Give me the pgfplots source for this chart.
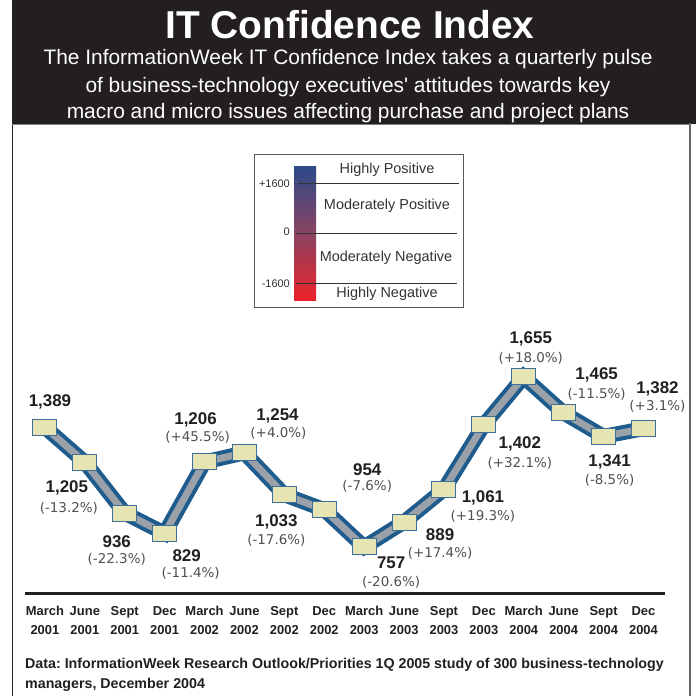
\documentclass[border=0pt]{standalone}
\usepackage{pgfplots}
\pgfplotsset{compat=1.18}
\usepackage{pgfplotstable}
\usepackage{fontspec}
\setmainfont{Liberation Sans}
\newfontfamily\dejavu{DejaVu Sans}
\frenchspacing
\definecolor{hdr}{HTML}{231F20}
\definecolor{lineblue}{HTML}{1F5C8E}
\definecolor{linegray}{HTML}{9BA1A9}
\definecolor{mkfill}{HTML}{E6E4B2}
\definecolor{mkdraw}{HTML}{3D6F9A}
\definecolor{pctgray}{HTML}{505050}
\definecolor{legblue}{HTML}{2C4A8A}
\definecolor{legmid}{HTML}{8A4462}
\definecolor{legred}{HTML}{EC2229}
\definecolor{legtext}{HTML}{333333}
\newcommand\tl[2]{\begin{tabular}{@{}c@{}}#1\\#2\end{tabular}}
\pgfplotstableread{
x y
0 1389
1 1205
2 936
3 829
4 1206
5 1254
6 1033
7 954
8 757
9 889
10 1061
11 1402
12 1655
13 1465
14 1341
15 1382
}\idx
\newcommand\val[5]{\node[font=\fontsize{17}{20}\selectfont\bfseries, text=hdr, inner sep=0pt] at ([xshift=#3bp,yshift=#4bp]axis cs:#1,#2) {#5};}
\newcommand\pct[5]{\node[font=\dejavu\fontsize{13.5}{16}\selectfont, text=pctgray, inner sep=0pt] at ([xshift=#3bp,yshift=#4bp]axis cs:#1,#2) {#5};}
\begin{document}
\begin{tikzpicture}[x=1bp,y=1bp]
\path[use as bounding box] (0bp,0bp) rectangle (696bp,-696bp);
\fill[white] (0bp,0bp) rectangle (696bp,-696bp);
\fill[hdr] (12bp,0bp) rectangle (696bp,-124bp);
\draw[hdr, line width=1.3bp] (12.6bp,-124bp) -- (12.6bp,-696bp);
\draw[gray!80!black, line width=2bp] (690bp,-123bp) -- (690bp,-696bp);
\draw[gray, line width=1bp] (12bp,-124.5bp) -- (690bp,-124.5bp);
\node[white, anchor=base, inner sep=0pt, font=\fontsize{39}{44}\selectfont\bfseries] at (350bp,-38bp) {IT Confidence Index};
\node[white, anchor=base, inner sep=0pt, font=\fontsize{21}{24}\selectfont] at (348bp,-64bp) {The InformationWeek IT Confidence Index takes a quarterly pulse};
\node[white, anchor=base, inner sep=0pt, font=\fontsize{21}{24}\selectfont] at (348bp,-92bp) {of business-technology executives\textquotesingle\ attitudes towards key};
\node[white, anchor=base, inner sep=0pt, font=\fontsize{21}{24}\selectfont] at (348bp,-118bp) {macro and micro issues affecting purchase and project plans};
% legend graphic
\draw[gray!70!black, line width=1bp] (254bp,-154bp) rectangle (463bp,-307bp);
\shade[top color=legblue, bottom color=legred, middle color=legmid] (294bp,-166bp) rectangle (316bp,-300bp);
\draw[legtext, line width=1bp] (298bp,-183bp) -- (459bp,-183bp);
\draw[legtext, line width=1bp] (296bp,-233bp) -- (457bp,-233bp);
\draw[legtext, line width=1bp] (296bp,-283bp) -- (457bp,-283bp);
\node[legtext, anchor=east, inner sep=0pt, font=\fontsize{11}{13}\selectfont] at (290bp,-184bp) {+1600};
\node[legtext, anchor=east, inner sep=0pt, font=\fontsize{11}{13}\selectfont] at (290bp,-232bp) {0};
\node[legtext, anchor=east, inner sep=0pt, font=\fontsize{11}{13}\selectfont] at (290bp,-284bp) {-1600};
\node[legtext, inner sep=0pt, font=\fontsize{14.5}{17}\selectfont] at (387bp,-170bp) {Highly Positive};
\node[legtext, inner sep=0pt, font=\fontsize{14.5}{17}\selectfont] at (387bp,-206bp) {Moderately Positive};
\node[legtext, inner sep=0pt, font=\fontsize{14.5}{17}\selectfont] at (386bp,-258bp) {Moderately Negative};
\node[legtext, inner sep=0pt, font=\fontsize{14.5}{17}\selectfont] at (387bp,-294bp) {Highly Negative};
% footnote
\node[hdr, anchor=base west, inner sep=0pt, font=\fontsize{14.3}{17}\selectfont\bfseries] at (25bp,-668bp) {Data: InformationWeek Research Outlook/Priorities 1Q 2005 study of 300 business-technology};
\node[hdr, anchor=base west, inner sep=0pt, font=\fontsize{14.3}{17}\selectfont\bfseries] at (25bp,-688bp) {managers, December 2004};
\begin{axis}[
  at={(25bp,-593bp)}, anchor=south west,
  scale only axis, width=640bp, height=263bp,
  xmin=-0.5, xmax=15.54, ymin=514, ymax=1903,
  axis x line*=bottom, axis y line=none,
  x axis line style={line width=3bp, draw=hdr},
  xtick={0,...,15}, major tick length=0pt,
  xticklabels={\tl{March}{2001},\tl{June}{2001},\tl{Sept}{2001},\tl{Dec}{2001},
    \tl{March}{2002},\tl{June}{2002},\tl{Sept}{2002},\tl{Dec}{2002},
    \tl{March}{2003},\tl{June}{2003},\tl{Sept}{2003},\tl{Dec}{2003},
    \tl{March}{2004},\tl{June}{2004},\tl{Sept}{2004},\tl{Dec}{2004}},
  xticklabel style={font=\fontsize{13}{19}\selectfont\bfseries, text=hdr, yshift=-6bp},
  clip=false,
]
\addplot[lineblue, line width=15bp] table[x=x,y=y] {\idx};
\addplot[linegray, line width=7bp] table[x=x,y=y] {\idx};
\addplot[only marks, mark=square*, mark size=8bp, mark options={fill=mkfill, draw=mkdraw, line width=1bp, xscale=1.5}] table[x=x,y=y] {\idx};
\val{0}{1389}{5}{25.4}{1,389}
\val{1}{1205}{-18}{-26}{1,205}
\val{2}{936}{-8}{-29}{936}
\val{3}{829}{22}{-22}{829}
\val{4}{1206}{-9}{42}{1,206}
\val{5}{1254}{33}{37}{1,254}
\val{6}{1033}{-8}{-27}{1,033}
\val{7}{954}{43}{40}{954}
\val{8}{757}{27}{-16}{757}
\val{9}{889}{36}{-13}{889}
\val{10}{1061}{39}{-8}{1,061}
\val{11}{1402}{36}{-19}{1,402}
\val{12}{1655}{7}{38}{1,655}
\val{13}{1465}{33}{38}{1,465}
\val{14}{1341}{6}{-25}{1,341}
\val{15}{1382}{14}{40}{1,382}
\pct{1}{1205}{-16}{-46}{(-13.2\%)}
\pct{2}{936}{-8}{-46}{(-22.3\%)}
\pct{3}{829}{26}{-40}{(-11.4\%)}
\pct{4}{1206}{-7}{25}{(+45.5\%)}
\pct{5}{1254}{34}{20}{(+4.0\%)}
\pct{6}{1033}{-8}{-46}{(-17.6\%)}
\pct{7}{954}{43}{23}{(-7.6\%)}
\pct{8}{757}{27}{-35}{(-20.6\%)}
\pct{9}{889}{36}{-31}{(+17.4\%)}
\pct{10}{1061}{39}{-27}{(+19.3\%)}
\pct{11}{1402}{36}{-38}{(+32.1\%)}
\pct{12}{1655}{7}{19}{(+18.0\%)}
\pct{13}{1465}{33}{19}{(-11.5\%)}
\pct{14}{1341}{6}{-44}{(-8.5\%)}
\pct{15}{1382}{14}{22}{(+3.1\%)}
\end{axis}
\end{tikzpicture}
\end{document}
